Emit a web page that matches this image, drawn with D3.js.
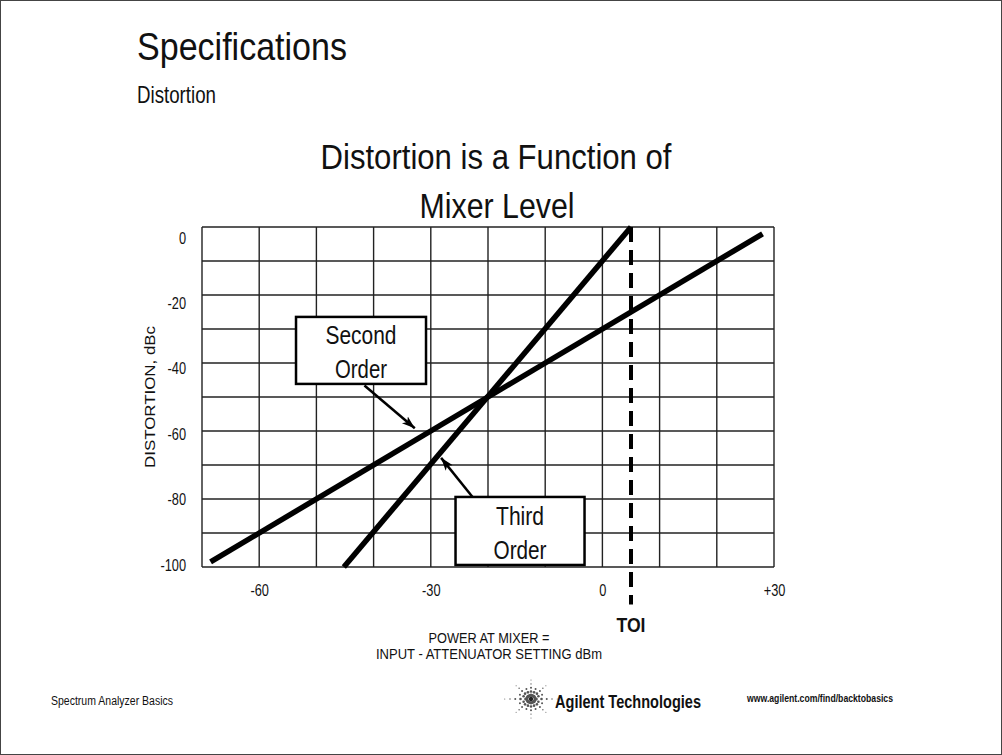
<!DOCTYPE html>
<html>
<head>
<meta charset="utf-8">
<script src="https://cdn.jsdelivr.net/npm/d3@7"></script>
<style>
  body { margin: 0; background: #fff; }
  text { font-family: "Liberation Sans", Arial, sans-serif; fill: #111; }
</style>
</head>
<body>
<script>
// chart values
const gridX = [-70, -60, -50, -40, -30, -20, -10, 0, 10, 20, 30];
const gridY = [0, -10, -20, -30, -40, -50, -60, -70, -80, -90, -100];
const xTicks = [-60, -30, 0, 30];
const xTickLabels = ["-60", "-30", "0", "+30"];
const yTicks = [0, -20, -40, -60, -80, -100];
const secondOrder = [[-68.5, -98.5], [28, -2]];
const thirdOrder = [[-45.2, -100], [5, 0]];
const toi = 5;

//svg setup
const W = 1002, H = 755;
const svg = d3.select("body").append("svg").attr("width", W).attr("height", H);

svg.append("rect").attr("x", 0.5).attr("y", 0.5)
  .attr("width", W - 1).attr("height", H - 1)
  .attr("fill", "#fff").attr("stroke", "#444").attr("stroke-width", 1);

//scales
const x = d3.scaleLinear().domain([-70, 30]).range([202, 774]);
const y = d3.scaleLinear().domain([-100, 0]).range([567, 227]);
// tick labels sit a little off the grid lines on the slide
const yLab = d3.scaleLinear().domain([-100, 0]).range([565, 238]);

// condensed look: squeeze text to the width it has on the slide
function label(parent, px, py, str, size, len, anchor, bold) {
  const t = parent.append("text")
    .attr("x", px).attr("y", py)
    .attr("text-anchor", anchor || "start")
    .style("font-size", size + "px")
    .text(str);
  if (bold) t.style("font-weight", "bold");
  if (len) t.attr("textLength", len).attr("lengthAdjust", "spacingAndGlyphs");
  return t;
}

//headings
label(svg, 137, 60, "Specifications", 39, 210);
label(svg, 137, 103, "Distortion", 24, 79);
label(svg, 496, 169, "Distortion is a Function of", 35, 351, "middle");
label(svg, 497, 218, "Mixer Level", 35, 155, "middle");

//grid
const grid = svg.append("g").attr("stroke", "#222").attr("stroke-width", 1.4);
grid.selectAll(".gx").data(gridX).enter().append("line")
  .attr("x1", d => x(d)).attr("x2", d => x(d))
  .attr("y1", y(0)).attr("y2", y(-100));
grid.selectAll(".gy").data(gridY).enter().append("line")
  .attr("y1", d => y(d)).attr("y2", d => y(d))
  .attr("x1", x(-70)).attr("x2", x(30));

//y axis labels
const yAxis = svg.append("g")
  .attr("transform", "translate(186,0)")
  .call(d3.axisLeft(yLab).tickValues(yTicks).tickSize(0).tickPadding(0).tickFormat(d => d));
yAxis.select(".domain").remove();
yAxis.selectAll("text").style("font-size", "16px").style("font-family", null)
  .attr("transform", "scale(0.8,1)");

//x axis labels
const xAxis = svg.append("g")
  .attr("transform", "translate(0,585)")
  .call(d3.axisBottom(x).tickValues(xTicks).tickSize(0).tickPadding(0)
    .tickFormat((d, i) => xTickLabels[i]));
xAxis.select(".domain").remove();
xAxis.selectAll("g.tick").each(function (d) {
  d3.select(this).select("text")
    .style("font-size", "16px").style("font-family", null)
    .attr("transform", "scale(0.8,1)");
});

//axis titles
const yTitle = svg.append("g")
  .attr("transform", `translate(155,${(y(0) + y(-100)) / 2}) rotate(-90)`);
label(yTitle, 0, 0, "DISTORTION, dBc", 14, 142, "middle");
label(svg, 489, 643, "POWER AT MIXER =", 15, 121, "middle");
label(svg, 489, 659, "INPUT - ATTENUATOR SETTING dBm", 15, 226, "middle");

//TOI dashed marker
svg.append("line")
  .attr("x1", x(toi)).attr("x2", x(toi))
  .attr("y1", y(0)).attr("y2", y(-111))
  .attr("stroke", "#000").attr("stroke-width", 4)
  .attr("stroke-dasharray", "15,8");
label(svg, x(toi), 632, "TOI", 20, 29, "middle", true);

//distortion lines
const line = d3.line().x(d => x(d[0])).y(d => y(d[1]));
[secondOrder, thirdOrder].forEach(s => {
  svg.append("path").attr("d", line(s))
    .attr("fill", "none").attr("stroke", "#000").attr("stroke-width", 5.5);
});

//arrow marker
svg.append("defs").append("marker")
  .attr("id", "arr").attr("viewBox", "0 0 10 10")
  .attr("refX", 10).attr("refY", 5)
  .attr("markerWidth", 13).attr("markerHeight", 13)
  .attr("markerUnits", "userSpaceOnUse")
  .attr("orient", "auto")
  .append("path").attr("d", "M0,1.5L10,5L0,8.5L2.5,5Z").attr("fill", "#000");

//callout boxes
const callouts = [
  { lines: ["Second", "Order"], lens: [71, 52], cx: -42.2, cy: -36.3, w: 130, h: 67, from: [-41.6, -46.6], to: [-32.8, -59.2] },
  { lines: ["Third", "Order"], lens: [48, 53], cx: -14.4, cy: -89.4, w: 129, h: 68, from: [-22.7, -79.4], to: [-28.2, -67.9] }
];
callouts.forEach(c => {
  svg.append("line")
    .attr("x1", x(c.from[0])).attr("y1", y(c.from[1]))
    .attr("x2", x(c.to[0])).attr("y2", y(c.to[1]))
    .attr("stroke", "#000").attr("stroke-width", 2.5)
    .attr("marker-end", "url(#arr)");
  const g = svg.append("g").attr("transform", `translate(${x(c.cx)},${y(c.cy)})`);
  g.append("rect").attr("x", -c.w / 2).attr("y", -c.h / 2)
    .attr("width", c.w).attr("height", c.h)
    .attr("fill", "#fff").attr("stroke", "#000").attr("stroke-width", 2.5);
  c.lines.forEach((s, i) => label(g, 0, -6 + i * 34, s, 26, c.lens[i], "middle"));
});

//footer
label(svg, 51, 705, "Spectrum Analyzer Basics", 12, 122);
label(svg, 555, 708, "Agilent Technologies", 18, 146, "start", true);
label(svg, 747, 702, "www.agilent.com/find/backtobasics", 10, 146, "start", true);

//spark logo made of dots
const logo = svg.append("g").attr("transform", "translate(531,699)");
const spark = [];
for (let a = 0; a < 16; a++) {
  const ang = a * Math.PI / 8;
  const long = a % 2 === 0;
  const steps = long ? 5 : 3;
  for (let k = 1; k <= steps; k++) {
    const r = k * (long ? 4.2 : 4);
    spark.push({ x: Math.cos(ang) * r * (a % 4 === 0 ? 1.25 : 1), y: Math.sin(ang) * r * 0.9, s: 1.9 - k * 0.3 });
  }
}
logo.append("circle").attr("r", 2.2).attr("fill", "#222");
logo.selectAll("circle.d").data(spark).enter().append("circle")
  .attr("class", "d").attr("cx", d => d.x).attr("cy", d => d.y)
  .attr("r", d => Math.max(0.5, d.s)).attr("fill", "#555");
</script>
</body>
</html>
